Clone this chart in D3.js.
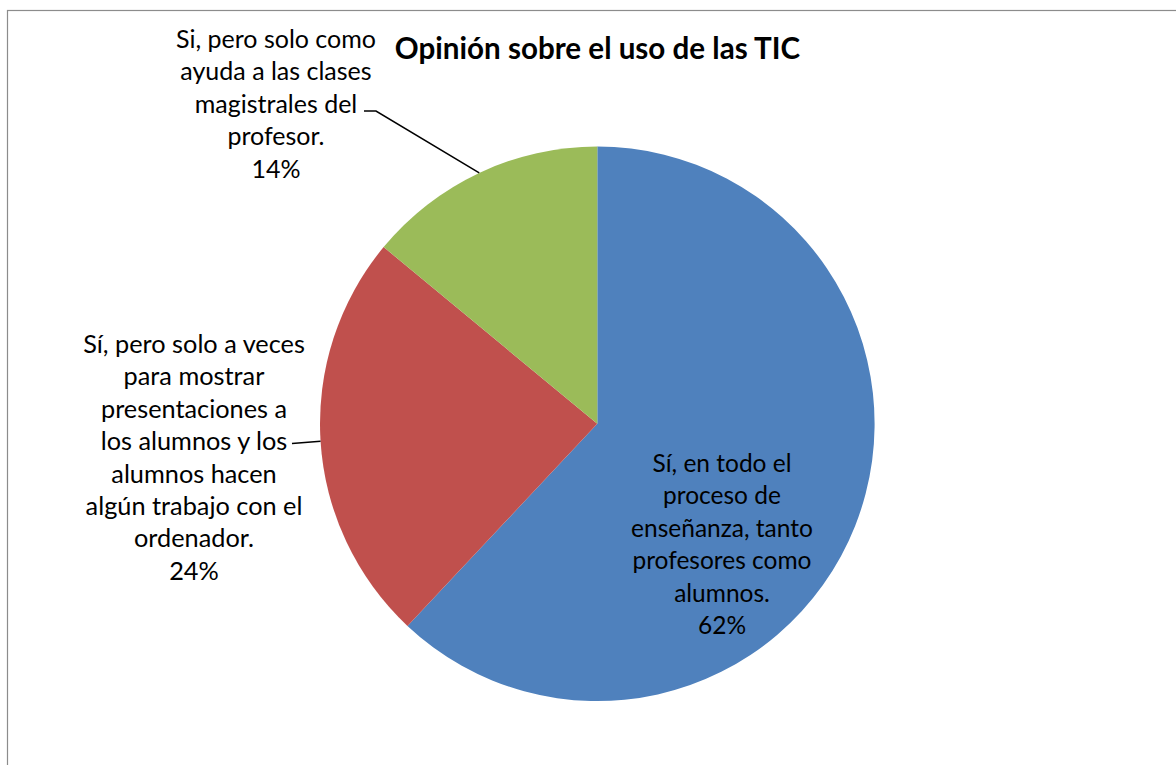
<!DOCTYPE html>
<html>
<head>
<meta charset="utf-8">
<script src="https://cdn.jsdelivr.net/npm/d3@7"></script>
<style>
  html, body { margin: 0; padding: 0; background: #fff; }
  svg { display: block; }
  text { font-family: Lato, "Open Sans", sans-serif; fill: #000; }
</style>
</head>
<body>
<div id="chart"></div>
<script>
'use strict';

// data
const categories = [
  "Sí, en todo el proceso de enseñanza, tanto profesores como alumnos.",
  "Sí, pero solo a veces para mostrar presentaciones a los alumnos y los alumnos hacen algún trabajo con el ordenador.",
  "Si, pero solo como ayuda a las clases magistrales del profesor."
];
const values = [62, 24, 14];
const colors = ["#4F81BD", "#C0504D", "#9BBB59"];
// label lines as wrapped in the picture
const labelLines = [
  ["Sí, en todo el", "proceso de", "enseñanza, tanto", "profesores como", "alumnos.", "62%"],
  ["Sí, pero solo a veces", "para mostrar", "presentaciones a", "los alumnos y los", "alumnos hacen", "algún trabajo con el", "ordenador.", "24%"],
  ["Si, pero solo como", "ayuda a las clases", "magistrales del", "profesor.", "14%"]
];
const title = "Opinión sobre el uso de las TIC";

const width = 1176, height = 765;
const cx = 597.3, cy = 423.8, radius = 277.3;
const lineHeight = 32.4;

// label layout: center x, first baseline y, leader line start (text side) and elbow
const labelLayout = [
  {x: 722, y: 472, size: 24.5, leader: null},
  {x: 194, y: 353, size: 25.3, leader: {x0: 292, y0: 443.5, x1: 292, y1: 443.5}},
  {x: 276, y: 48, size: 25, leader: {x0: 364, y0: 111, x1: 376, y1: 111}}
];

const svg = d3.select("#chart").append("svg")
  .attr("width", width)
  .attr("height", height);

// chart area border
svg.append("rect")
  .attr("x", 7.5)
  .attr("y", 10.5)
  .attr("width", width + 10)
  .attr("height", height + 10)
  .attr("fill", "#fff")
  .attr("stroke", "#8c8c8c")
  .attr("stroke-width", 1.2);

const pie = d3.pie().sort(null).value(d => d)(values);
const arc = d3.arc().innerRadius(0).outerRadius(radius);

const g = svg.append("g").attr("transform", `translate(${cx},${cy})`);

g.selectAll("path.slice")
  .data(pie)
  .join("path")
  .attr("class", "slice")
  .attr("d", arc)
  .attr("fill", (d, i) => colors[i]);

// leader lines
pie.forEach((d, i) => {
  let l = labelLayout[i].leader;
  if(!l) return;
  let a = (d.startAngle + d.endAngle) / 2;
  let ex = cx + radius * Math.sin(a),
      ey = cy - radius * Math.cos(a);
  svg.append("polyline")
    .attr("points", [[l.x0, l.y0], [l.x1, l.y1], [ex, ey]].map(p => p.join(",")).join(" "))
    .attr("fill", "none")
    .attr("stroke", "#000")
    .attr("stroke-width", 1.5);
});

// data labels
labelLines.forEach((lines, i) => {
  let lay = labelLayout[i];
  let t = svg.append("text")
    .attr("text-anchor", "middle")
    .attr("font-size", lay.size);
  lines.forEach((line, k) => {
    t.append("tspan")
      .attr("x", lay.x)
      .attr("y", lay.y + k * lineHeight)
      .text(line);
  });
});

// title
svg.append("text")
  .attr("x", 597.5)
  .attr("y", 59)
  .attr("text-anchor", "middle")
  .attr("font-size", 29.6)
  .attr("font-weight", "bold")
  .text(title);
</script>
</body>
</html>
